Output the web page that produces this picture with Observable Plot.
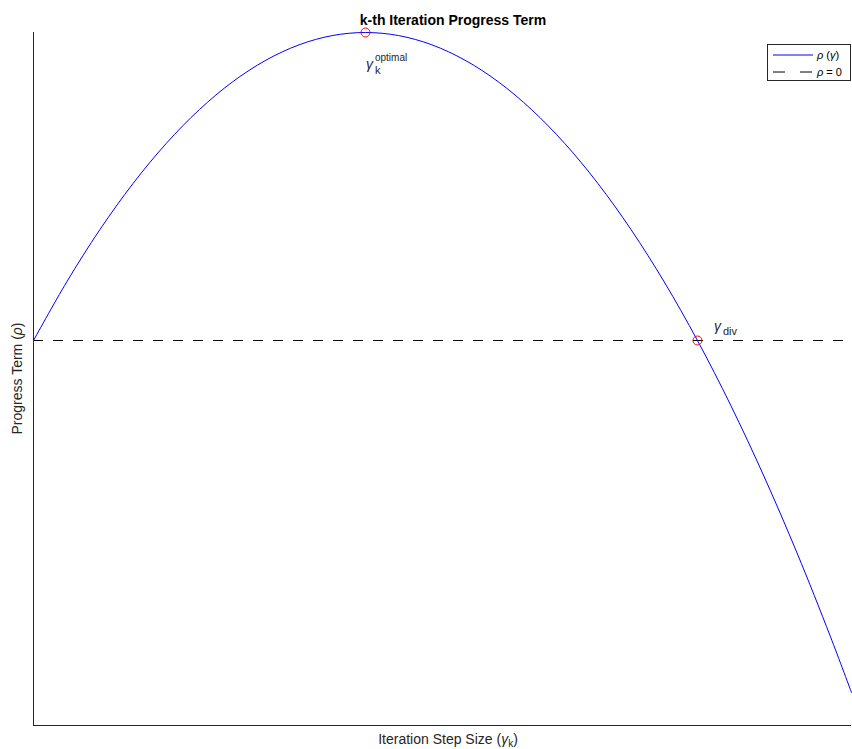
<!DOCTYPE html>
<html>
<head>
<meta charset="utf-8">
<script src="https://cdn.jsdelivr.net/npm/d3@7"></script>
<script src="https://cdn.jsdelivr.net/npm/@observablehq/plot@0.6"></script>
<style>
  html, body { margin: 0; padding: 0; background: #fff; }
  svg text { font-family: "Liberation Sans", Arial, Helvetica, sans-serif; }
</style>
</head>
<body>
<div id="chart"></div>
<script>
// Step sizes (gamma) and the progress term rho(gamma) at each step
const gammaValues = [0, 0.1, 0.2, 0.3, 0.4, 0.5, 0.6, 0.7, 0.8, 0.9, 1.0, 1.1, 1.2,
  1.3, 1.4, 1.5, 1.6, 1.7, 1.8, 1.9, 2.0, 2.1, 2.2, 2.3, 2.4, 2.464];
const rhoValues = [0, 0.19, 0.36, 0.51, 0.64, 0.75, 0.84, 0.91, 0.96, 0.99, 1.0, 0.99, 0.96,
  0.91, 0.84, 0.75, 0.64, 0.51, 0.36, 0.19, 0, -0.21, -0.44, -0.69, -0.96, -1.143];

// Highlighted points: optimal step size and divergence threshold
const markerNames = ["optimal", "div"];
const markerGamma = [1.0, 2.0];
const markerRho = [1.0, 0];

// Axis extents
const xDomain = [0, 2.464];
const yDomain = [-1.25, 1];

const curve = gammaValues.map((g, i) => ({gamma: g, rho: rhoValues[i]}));
const markers = markerNames.map((n, i) => ({name: n, gamma: markerGamma[i], rho: markerRho[i]}));

const W = 852, H = 749;
const axisColor = "#262626";

const chart = Plot.plot({
  width: W,
  height: H,
  marginLeft: 33,
  marginRight: 1,
  marginTop: 32,
  marginBottom: 24,
  style: {fontFamily: "Liberation Sans, Arial, sans-serif", background: "#fff"},
  x: {domain: xDomain, axis: null},
  y: {domain: yDomain, axis: null},
  marks: [
    Plot.ruleY([0], {stroke: "#000", strokeWidth: 1, strokeDasharray: "10,10"}),
    Plot.line(curve, {x: "gamma", y: "rho", stroke: "#0000ff", strokeWidth: 1, curve: "catmull-rom"}),
    Plot.dot(markers, {x: "gamma", y: "rho", r: 4.5, stroke: "#ff0000", fill: "none", strokeWidth: 1}),
    Plot.ruleX([xDomain[0]], {stroke: axisColor, strokeWidth: 1}),
    Plot.ruleY([yDomain[0]], {stroke: axisColor, strokeWidth: 1})
  ]
});

document.getElementById("chart").appendChild(chart);

const svg = d3.select(chart);
const sx = chart.scale("x"), sy = chart.scale("y");
const font = "Liberation Sans, Arial, sans-serif";

function label(parent, x, y, size, anchor) {
  return parent.append("text")
    .attr("x", x).attr("y", y)
    .attr("text-anchor", anchor)
    .attr("font-family", font).attr("font-size", size)
    .attr("fill", "#262626");
}

// Title
label(svg, 453, 25, 14, "middle")
  .attr("font-weight", "bold").attr("fill", "#000")
  .text("k-th Iteration Progress Term");

// X axis label with subscript
const xl = label(svg, 448, 744, 14, "middle");
xl.append("tspan").text("Iteration Step Size (");
xl.append("tspan").attr("font-style", "italic").text("γ");
xl.append("tspan").attr("font-size", 10).attr("dy", 3).text("k");
xl.append("tspan").attr("dy", -3).text(")");

// Y axis label
const yl = svg.append("text")
  .attr("transform", `translate(22,${(32 + 725) / 2}) rotate(-90)`)
  .attr("text-anchor", "middle")
  .attr("font-family", font).attr("font-size", 14).attr("fill", "#262626");
yl.append("tspan").text("Progress Term (");
yl.append("tspan").attr("font-style", "italic").text("ρ");
yl.append("tspan").text(")");

// Marker annotations
const opt = markers[0], dv = markers[1];
const ox = sx.apply(opt.gamma), oy = sy.apply(opt.rho);
label(svg, ox + 1, oy + 37, 14, "start").attr("font-style", "italic").text("γ");
label(svg, ox + 10, oy + 29, 10, "start").text("optimal");
label(svg, ox + 10, oy + 42, 11, "start").text("k");

const dxp = sx.apply(dv.gamma), dyp = sy.apply(dv.rho);
label(svg, dxp + 17, dyp - 9, 14, "start").attr("font-style", "italic").text("γ");
label(svg, dxp + 26, dyp - 5, 11, "start").text("div");

// Legend
const lg = svg.append("g").attr("transform", "translate(767,44)");
lg.append("rect").attr("x", 0.5).attr("y", 0.5).attr("width", 83).attr("height", 36)
  .attr("fill", "#fff").attr("stroke", axisColor).attr("stroke-width", 1);
lg.append("line").attr("x1", 6).attr("x2", 46).attr("y1", 11).attr("y2", 11)
  .attr("stroke", "#0000ff").attr("stroke-width", 1);
lg.append("line").attr("x1", 6).attr("x2", 46).attr("y1", 28).attr("y2", 28)
  .attr("stroke", "#000").attr("stroke-width", 1).attr("stroke-dasharray", "12,15");
const l1 = label(lg, 50, 15, 11, "start").attr("fill", "#000");
l1.append("tspan").attr("font-style", "italic").text("ρ");
l1.append("tspan").text(" (");
l1.append("tspan").attr("font-style", "italic").text("γ");
l1.append("tspan").text(")");
const l2 = label(lg, 50, 32, 11, "start").attr("fill", "#000");
l2.append("tspan").attr("font-style", "italic").text("ρ");
l2.append("tspan").text(" = 0");
</script>
</body>
</html>
